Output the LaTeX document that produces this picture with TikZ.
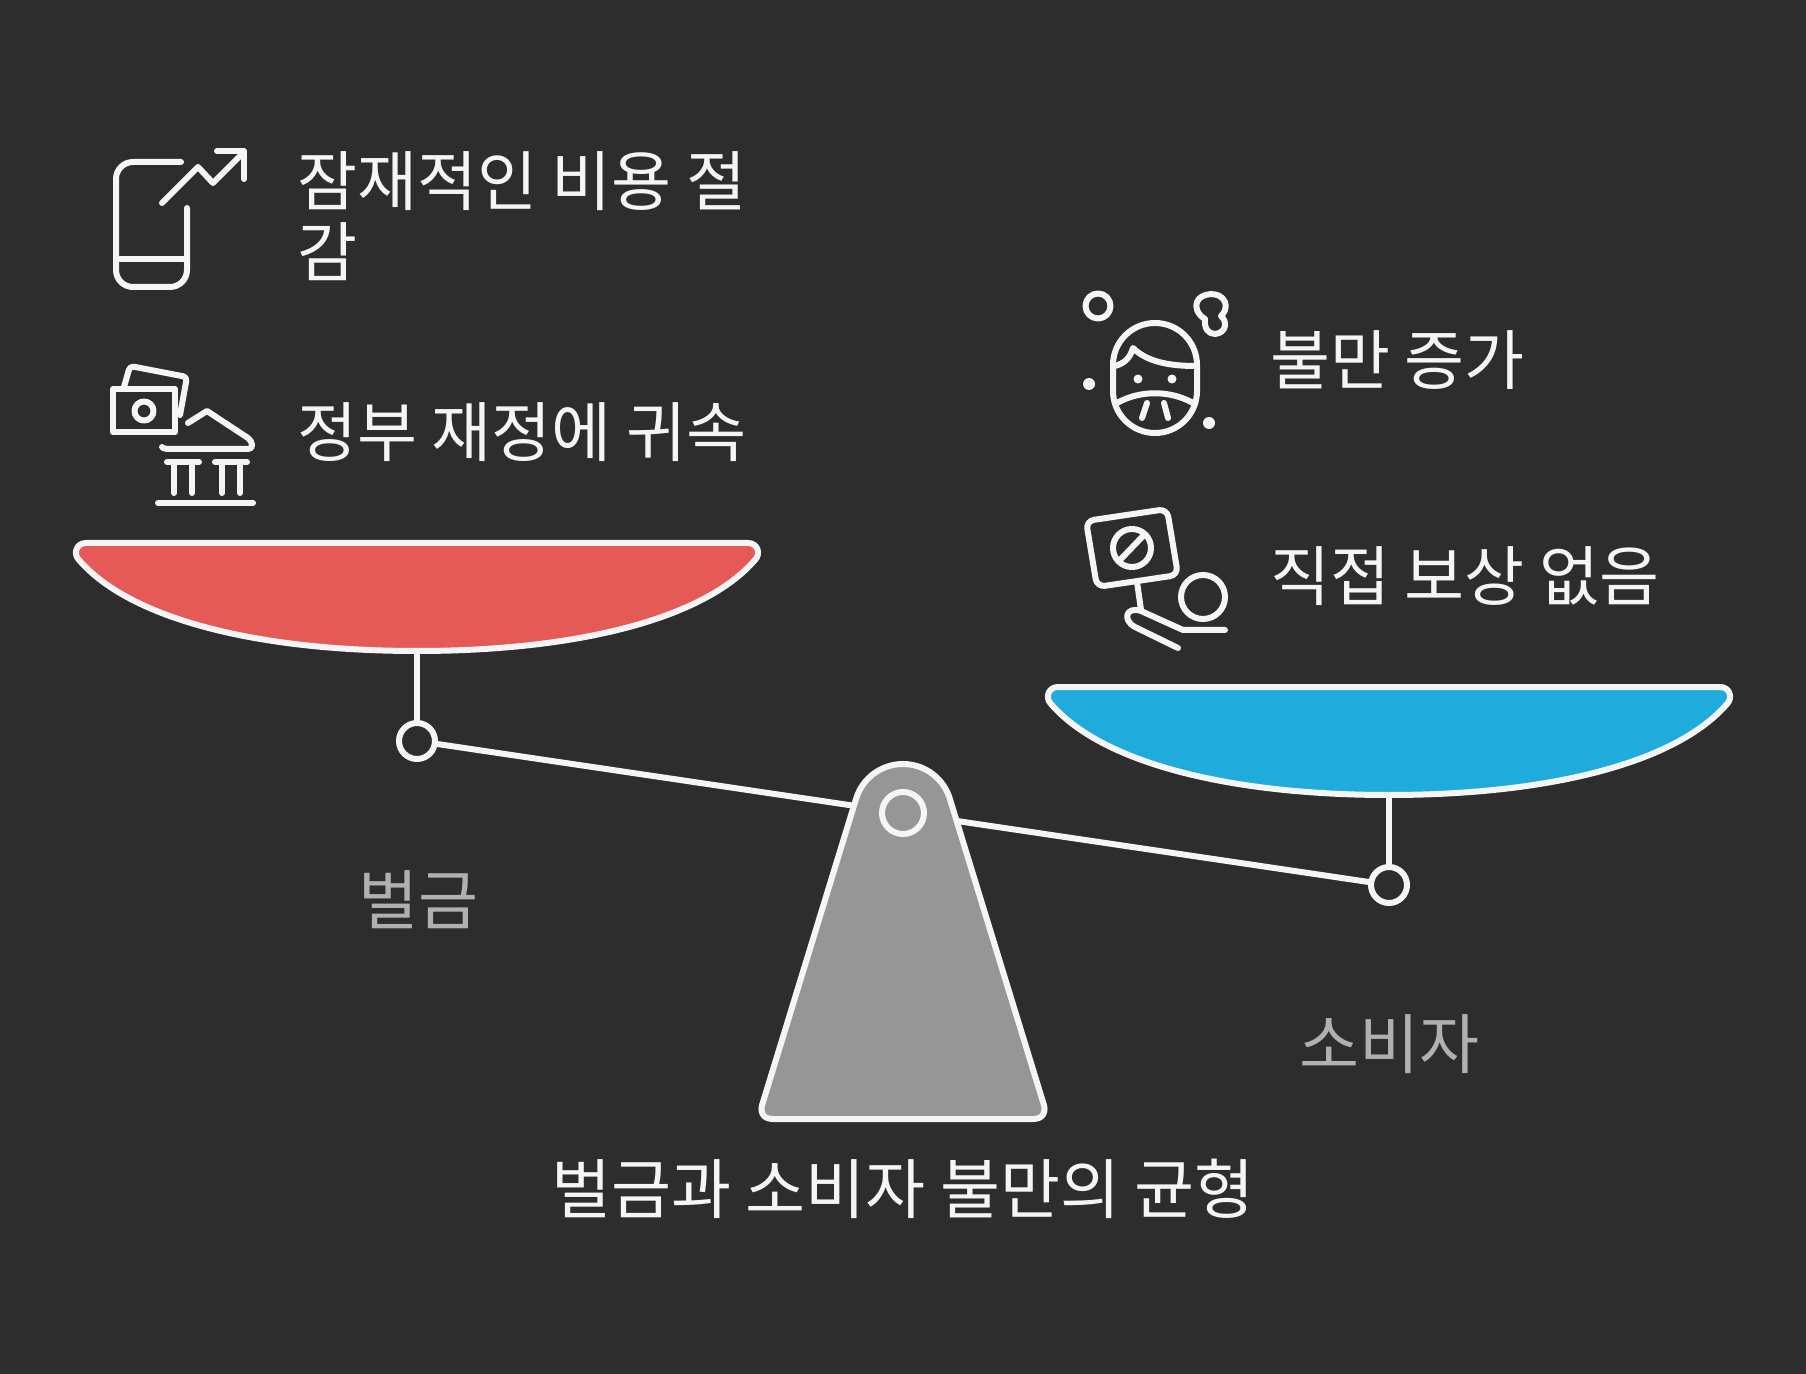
\documentclass[tikz,border=0pt]{standalone}
\usepackage{fontspec}
\setmainfont{Noto Sans CJK KR}
\usetikzlibrary{calc}
\definecolor{bgdark}{HTML}{2D2D2D}
\definecolor{strokewhite}{HTML}{F5F5F5}
\definecolor{panred}{HTML}{E55A57}
\definecolor{panblue}{HTML}{1FABDC}
\definecolor{standgray}{HTML}{969696}
\definecolor{mutedgray}{HTML}{B0B0B0}
\tikzset{
    ink/.style={draw=strokewhite,line width=3pt,line cap=round,line join=round},
    dot/.style={circle,fill=strokewhite,inner sep=0pt,minimum size=6pt},
    pivot/.style={circle,draw=strokewhite,line width=3pt,fill=bgdark,inner sep=0pt,minimum size=18pt},
    lbl/.style={text=strokewhite,font=\fontsize{32.6}{35.5}\selectfont,inner sep=0pt,align=left},
    sidelbl/.style={text=mutedgray,font=\fontsize{32.6}{35.5}\selectfont,inner sep=0pt},
}

\begin{document}
\begin{tikzpicture}[x=0.5pt,y=-0.5pt]
    \fill[bgdark] (0,0) rectangle (1806,1374);

    % beam and hangers
    \node[pivot] (pivotL) at (417,741) {};
    \node[pivot] (pivotR) at (1389,885) {};
    \coordinate (panL) at (417,652);
    \coordinate (panR) at (1389,795);
    \draw[ink] (pivotL) -- (pivotR);
    \draw[ink] (panL) -- (pivotL);
    \draw[ink] (panR) -- (pivotR);

    % pans
    \foreach \cx/\ty/\col in {417/543/panred, 1389/687/panblue}
        \draw[ink,fill=\col,shift={(\cx,\ty)}] (-331,0) -- (331,0)
            .. controls (341,0) and (344,11) .. (338,17)
            .. controls (287,76) and (160,108) .. (0,108)
            .. controls (-160,108) and (-287,76) .. (-338,17)
            .. controls (-344,11) and (-341,0) .. (-331,0) -- cycle;

    % stand
    \draw[ink,fill=standgray] (856,799) arc[start angle=196.6,end angle=343.4,radius=49]
        -- (1043,1102) .. controls (1047,1112) and (1043,1119) .. (1033,1119)
        -- (773,1119) .. controls (763,1119) and (759,1112) .. (763,1102) -- cycle;
    \node[pivot,fill=standgray,minimum size=21pt] (hinge) at (903,813) {};

    % phone icon
    \draw[ink] (181,162) -- (133,162) arc[start angle=270,end angle=180,radius=17] -- (116,270)
        arc[start angle=180,end angle=90,radius=17] -- (170,287)
        arc[start angle=90,end angle=0,radius=17] -- (187,208);
    \draw[ink] (116,259) -- (187,259);
    \draw[ink] (162,203) -- (198,167) -- (213,183) -- (244,152);
    \draw[ink] (217,151) -- (244,151) -- (244,179);

    % money and bank icon
    \draw[ink] (113,389) rectangle (175,432);
    \draw[ink] (144,411) circle[radius=9.5];
    \draw[ink,rounded corners=2pt] (124,387) -- (130,366) -- (187,377) -- (180,415);
    \draw[ink] (188,423) -- (207,411) -- (248,438) .. controls (253,442) and (254,449) .. (248,449)
        -- (168,449) .. controls (165,449) and (162,448) .. (162,447);
    \draw[ink] (167,462) -- (199,462);
    \draw[ink] (215,462) -- (247,462);
    \foreach \x in {174,192,222,240}
        \draw[ink] (\x,462) -- (\x,493);
    \draw[ink] (158,503) -- (253,503);

    % face icon
    \draw[ink] (1098,306) circle[radius=12.5];
    \draw[ink] (1205,319) .. controls (1197,314) and (1195,307) .. (1197,302)
        .. controls (1200,293) and (1220,290) .. (1225,302)
        .. controls (1227,309) and (1224,313) .. (1221,316)
        .. controls (1228,322) and (1226,333) .. (1215,334)
        .. controls (1208,334) and (1204,328) .. (1205,319);
    \draw[ink] (1113,365) arc[start angle=180,end angle=360,radius=42] -- (1197,391)
        arc[start angle=0,end angle=180,radius=42] -- cycle;
    \draw[ink] (1115,366) .. controls (1125,363) and (1130,358) .. (1133,348)
        .. controls (1145,360) and (1165,366) .. (1195,366);
    \draw[ink] (1117,403) .. controls (1140,390) and (1170,390) .. (1193,403);
    \draw[ink] (1147,403) -- (1142,418);
    \draw[ink] (1164,403) -- (1168,418);
    \node[dot,minimum size=4.5pt] (eyeL) at (1138,379) {};
    \node[dot,minimum size=4.5pt] (eyeR) at (1172,379) {};
    \node[dot] (dotL) at (1089,384) {};
    \node[dot] (dotR) at (1209,423) {};

    % sign icon
    \draw[ink,rounded corners=4pt] (1086,521) -- (1167,509) -- (1178,575) -- (1097,587) -- cycle;
    \draw[ink] (1132,548) circle[radius=19];
    \draw[ink] (1120,560) -- (1144,535);
    \draw[ink] (1137,582) -- (1141,610);
    \draw[ink] (1178,648) -- (1135,627) .. controls (1122,620) and (1126,606) .. (1141,611)
        -- (1183,630) -- (1225,630);
    \draw[ink] (1203,597) circle[radius=22];

    % labels
    \node[lbl,anchor=north west] (savings) at (297,151) {잠재적인 비용 절\\감};
    \node[lbl,anchor=west] (treasury) at (297,432) {정부 재정에 귀속};
    \node[lbl,anchor=west] (anger) at (1270,360) {불만 증가};
    \node[lbl,anchor=west] (noreward) at (1270,576) {직접 보상 없음};
    \node[sidelbl] (fine) at (418,900) {벌금};
    \node[sidelbl] (consumer) at (1389,1044) {소비자};
    \node[lbl] (title) at (903,1189) {벌금과 소비자 불만의 균형};
\end{tikzpicture}
\end{document}
